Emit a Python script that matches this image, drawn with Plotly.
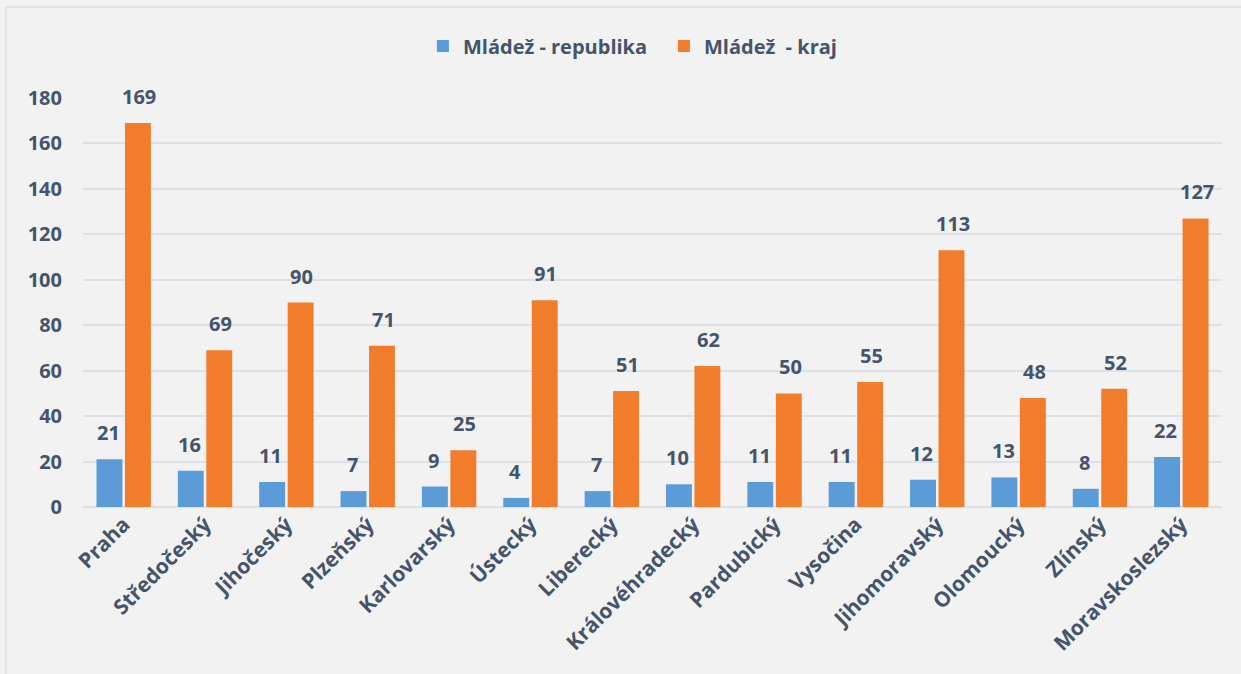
import plotly.graph_objects as go

# --- DATA ---
regions = ["Praha", "Středočeský", "Jihočeský", "Plzeňský", "Karlovarský", "Ústecký",
           "Liberecký", "Královéhradecký", "Pardubický", "Vysočina", "Jihomoravský",
           "Olomoucký", "Zlínský", "Moravskoslezský"]
republika = [21, 16, 11, 7, 9, 4, 7, 10, 11, 11, 12, 13, 8, 22]
kraj = [169, 69, 90, 71, 25, 91, 51, 62, 50, 55, 113, 48, 52, 127]

# --- STYLE ---
TEXT_COLOR = "#44546a"
FONT = "Open Sans"
BLUE = "#5a9bd8"
ORANGE = "#f07c2c"
GRID = "#dde1e7"

fig = go.Figure()
fig.add_trace(go.Bar(x=regions, y=republika, name="Mládež - republika",
                     marker=dict(color=BLUE, line=dict(width=0))))
fig.add_trace(go.Bar(x=regions, y=kraj, name="Mládež  - kraj",
                     marker=dict(color=ORANGE, line=dict(width=0))))

# value labels above the bars
for series, shift in ((republika, -15.5), (kraj, 15.5)):
    for reg, val in zip(regions, series):
        fig.add_annotation(x=reg, y=val, text=f"<b>{val}</b>", showarrow=False,
                           xshift=shift, yshift=11, yanchor="bottom",
                           font=dict(family=FONT, size=20, color=TEXT_COLOR))

# chart frame (top and left edges)
fig.add_shape(type="line", xref="paper", yref="paper",
              x0=(6 - 83) / 1139, x1=(1241 - 83) / 1139,
              y0=(507 - 7) / 409, y1=(507 - 7) / 409,
              line=dict(color="#d9dde3", width=1.5))
fig.add_shape(type="line", xref="paper", yref="paper",
              x0=(6 - 83) / 1139, x1=(6 - 83) / 1139,
              y0=(507 - 7) / 409, y1=(507 - 674) / 409,
              line=dict(color="#d9dde3", width=1.5))

fig.update_layout(
    width=1241, height=674,
    barmode="group", bargap=0.30, bargroupgap=0.09,
    paper_bgcolor="#f2f2f2", plot_bgcolor="#f2f2f2",
    font=dict(family=FONT, size=18, color=TEXT_COLOR, weight="bold"),
    margin=dict(l=83, r=19, t=98, b=167, autoexpand=False),
    legend=dict(orientation="h", xref="container", x=0.535, xanchor="center",
                yref="container", y=1 - 46 / 674, yanchor="middle",
                font=dict(family=FONT, size=20, color=TEXT_COLOR, weight="bold"),
                itemwidth=30, traceorder="normal",
                entrywidth=196, entrywidthmode="pixels"),
    showlegend=True,
)
fig.update_xaxes(tickangle=-45, showgrid=False, showline=False, ticks="",
                 tickfont=dict(family=FONT, size=21, color=TEXT_COLOR, weight="bold"))
fig.update_yaxes(range=[0, 180], dtick=20, gridcolor=GRID, gridwidth=2,
                 zeroline=True, zerolinecolor=GRID, zerolinewidth=2,
                 showline=False, ticks="", ticklabelstandoff=20,
                 tickfont=dict(family=FONT, size=20, color=TEXT_COLOR, weight="bold"))

fig.write_html("out.html", config={"displayModeBar": False},
               post_script="document.body.style.margin='0';")
